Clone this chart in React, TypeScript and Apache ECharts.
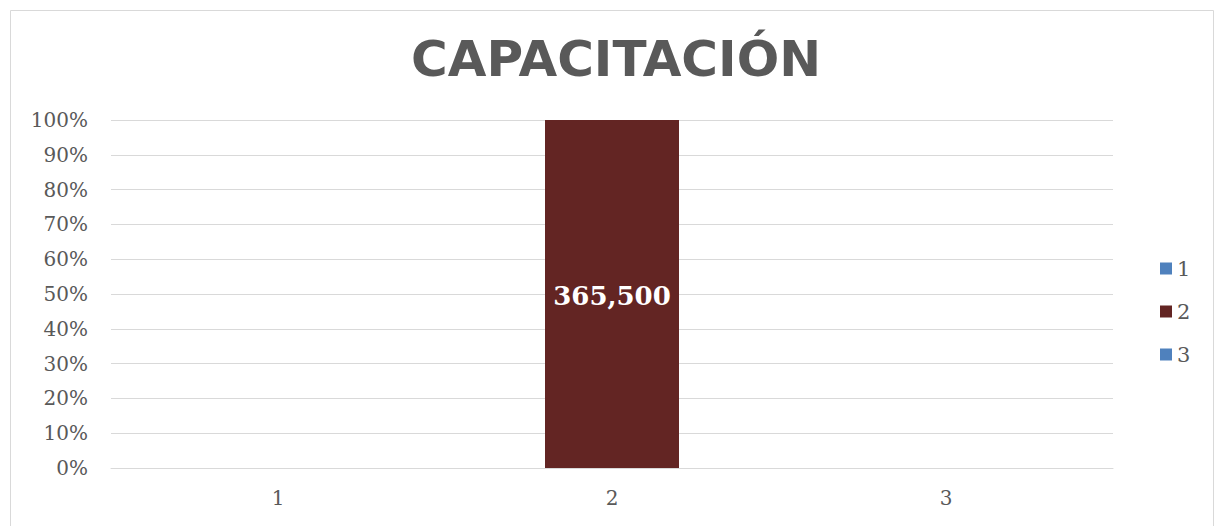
import React, { useEffect, useRef } from "react";
import * as echarts from "echarts";

const categories = ["1", "2", "3"];
const seriesNames = ["1", "2", "3"];
const seriesValues: number[][] = [
  [0, 0, 0],
  [0, 365500, 0],
  [0, 0, 0],
];
const seriesColors = ["#4F81BD", "#632523", "#4F81BD"];
const yTicks = [0, 0.1, 0.2, 0.3, 0.4, 0.5, 0.6, 0.7, 0.8, 0.9, 1];

export default function App() {
  const ref = useRef<HTMLDivElement>(null);
  useEffect(() => {
    if (!ref.current) return;
    const chart = echarts.init(ref.current, undefined, { renderer: "svg" });
    const totals = categories.map((_, i) =>
      seriesValues.reduce((s, arr) => s + arr[i], 0)
    );
    const serif = "DejaVu Serif";
    chart.setOption({
      animation: false,
      backgroundColor: "#ffffff",
      title: {
        text: "CAPACITACIÓN",
        left: 406,
        top: 29,
        textStyle: {
          fontFamily: "DejaVu Sans",
          fontWeight: "bold",
          fontSize: 50,
          color: "#595959",
        },
      },
      graphic: [
        {
          type: "rect",
          shape: { x: 10.5, y: 10.5, width: 1203, height: 530 },
          style: { fill: "none", stroke: "#d9d9d9", lineWidth: 1 },
          silent: true,
        },
      ],
      legend: {
        orient: "vertical",
        left: 1155,
        top: 253,
        itemWidth: 12,
        itemHeight: 12,
        itemGap: 22,
        icon: "rect",
        data: seriesNames,
        textStyle: { fontFamily: serif, fontSize: 21, color: "#595959" },
      },
      grid: { left: 111, right: 102, top: 120, bottom: 58 },
      xAxis: {
        type: "category",
        data: categories,
        axisLine: { lineStyle: { color: "#d9d9d9", width: 1 } },
        axisTick: { show: false },
        axisLabel: {
          fontFamily: serif,
          fontSize: 20,
          color: "#595959",
          margin: 20,
        },
      },
      yAxis: {
        type: "value",
        min: 0,
        max: 1,
        interval: 0.1,
        axisLine: { show: false },
        axisTick: { show: false },
        splitLine: { lineStyle: { color: "#d9d9d9", width: 1 } },
        axisLabel: {
          fontFamily: serif,
          fontSize: 20,
          color: "#595959",
          margin: 23,
          formatter: (v: number) => {
            const t = yTicks.find((x) => Math.abs(x - v) < 1e-9);
            return Math.round((t ?? v) * 100) + "%";
          },
        },
      },
      series: seriesNames.map((name, si) => ({
        name,
        type: "bar",
        stack: "total",
        barWidth: 134,
        itemStyle: { color: seriesColors[si] },
        data: seriesValues[si].map((v, i) => ({
          value: totals[i] ? v / totals[i] : 0,
          raw: v,
        })),
        label: {
          show: true,
          position: "inside",
          offset: [0, 2],
          fontFamily: serif,
          fontWeight: "bold",
          fontSize: 26,
          color: "#ffffff",
          formatter: (p: any) =>
            p.data.raw ? p.data.raw.toLocaleString("en-US") : "",
        },
      })),
    });
    return () => chart.dispose();
  }, []);
  return (
    <div
      ref={ref}
      style={{ position: "absolute", left: 0, top: 0, width: 1215, height: 526 }}
    />
  );
}
